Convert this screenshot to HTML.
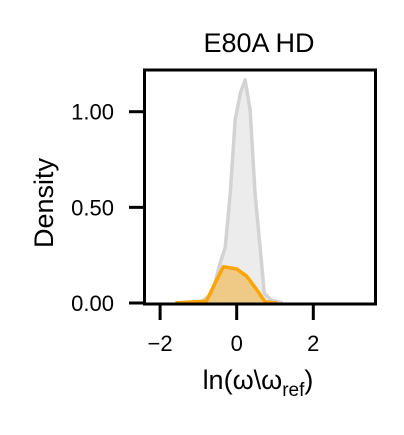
<!DOCTYPE html>
<html><head><meta charset="utf-8"><style>
body{margin:0;background:#fff;width:404px;height:430px;overflow:hidden}
text{font-family:"Liberation Sans",Arial,sans-serif;fill:#000}
</style></head><body>
<svg id="chart" width="404" height="430" viewBox="0 0 404 430">
<text x="259" y="52" font-size="27" text-anchor="middle">E80A HD</text>
<g id="marks"></g>
<rect x="144.5" y="70" width="231" height="234" fill="none" stroke="#000" stroke-width="3"/>
<g id="axes"></g>
<text transform="translate(53,203) rotate(-90)" font-size="27" text-anchor="middle">Density</text>
<text x="258" y="389" font-size="27" text-anchor="middle">ln(ω\ω<tspan font-size="19" dy="7">ref</tspan><tspan dy="-7">)</tspan></text>
</svg>
<script>
const xTicks=[-2,0,2];
const yTicks=[0,0.5,1.0];
const yTickLabels=["0.00","0.50","1.00"];
const grayX=[-1.6,-0.9,-0.64,-0.43,-0.3,-0.17,-0.04,0.1,0.22,0.35,0.48,0.61,0.72,0.9,1.2];
const grayY=[0,0.01,0.05,0.21,0.29,0.57,0.96,1.1,1.166,1.01,0.57,0.29,0.05,0.015,0];
const orangeX=[-1.6,-0.79,-0.61,-0.35,0,0.26,0.52,0.74,1.05];
const orangeY=[0,0.01,0.085,0.19,0.178,0.14,0.07,0.007,0];
const NS="http://www.w3.org/2000/svg";
const xs=v=>236.7+v*38.3, ys=v=>303-v*191.3;
function pathFor(X,Y){let d="";X.forEach((x,i)=>{d+=(i?"L":"M")+xs(x).toFixed(1)+","+ys(Y[i]).toFixed(1)});return d;}
const marks=document.getElementById("marks");
function area(X,Y,fill,stroke,name){
 const a=document.createElementNS(NS,"path");
 a.setAttribute("d",pathFor(X,Y)+"Z");a.setAttribute("fill",fill);
 
 
 marks.appendChild(a);
 const l=document.createElementNS(NS,"path");
 l.setAttribute("d",pathFor(X,Y));l.setAttribute("fill","none");l.setAttribute("stroke",stroke);l.setAttribute("stroke-width","3.5");l.setAttribute("stroke-linejoin","round");
 
 
 marks.appendChild(l);
}
area(grayX,grayY,"#ececec","#d3d3d3","gray-density");
area(orangeX,orangeY,"rgba(240,190,100,0.75)","#ffa500","orange-density");
const axes=document.getElementById("axes");
xTicks.forEach(t=>{
 const l=document.createElementNS(NS,"line");
 l.setAttribute("x1",xs(t));l.setAttribute("x2",xs(t));l.setAttribute("y1",304);l.setAttribute("y2",320);l.setAttribute("stroke","#000");l.setAttribute("stroke-width","3");
 
 
 axes.appendChild(l);
 const tx=document.createElementNS(NS,"text");
 tx.setAttribute("x",xs(t));tx.setAttribute("y",351);tx.setAttribute("font-size","22");tx.setAttribute("text-anchor","middle");
 tx.textContent=(t<0?"−":"")+Math.abs(t);
 
 
 axes.appendChild(tx);
});
yTicks.forEach((t,i)=>{
 const l=document.createElementNS(NS,"line");
 l.setAttribute("x1",129);l.setAttribute("x2",144);l.setAttribute("y1",ys(t));l.setAttribute("y2",ys(t));l.setAttribute("stroke","#000");l.setAttribute("stroke-width","3");
 
 
 axes.appendChild(l);
 const tx=document.createElementNS(NS,"text");
 tx.setAttribute("x",114);tx.setAttribute("y",ys(t)+8);tx.setAttribute("font-size","22");tx.setAttribute("text-anchor","end");
 tx.textContent=yTickLabels[i];
 
 
 axes.appendChild(tx);
});
</script>
</body></html>
